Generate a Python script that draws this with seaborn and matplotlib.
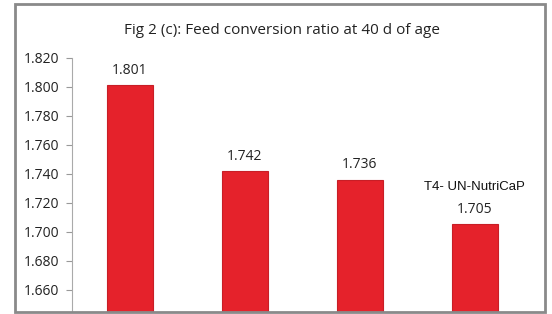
import matplotlib
matplotlib.use("Agg")
import matplotlib.pyplot as plt
import seaborn as sns
import pandas as pd
from matplotlib.patches import Rectangle

# data
treatments = ["T1", "T2", "T3", "T4"]
fcr = [1.801, 1.742, 1.736, 1.705]
value_labels = ["1.801", "1.742", "1.736", "1.705"]
yticks = [1.660, 1.680, 1.700, 1.720, 1.740, 1.760, 1.780, 1.800, 1.820]

df = pd.DataFrame({"treatment": treatments, "fcr": fcr})

sns.set_style("white")
plt.rcParams["font.family"] = ["Open Sans", "DejaVu Sans"]

fig = plt.figure(figsize=(5.52, 3.14), dpi=100)
ax = fig.add_axes([72 / 552, 2 / 314, 460 / 552, (312 - 58) / 314])

sns.barplot(data=df, x="treatment", y="fcr", color="#e5222b", width=0.4,
            edgecolor="#c81e26", linewidth=0.8, saturation=1, ax=ax)

ax.set_ylim(1.6445, 1.820)
ax.set_xlim(-0.5, 3.5)
ax.set_yticks(yticks)
ax.set_yticklabels([f"{t:.3f}" for t in yticks], fontsize=10, color="#222222")
ax.set_xticks([])
ax.set_xlabel("")
ax.set_ylabel("")
ax.tick_params(axis="y", length=4, width=0.8, color="#999999", pad=5, left=True)

for s in ["top", "right", "bottom"]:
    ax.spines[s].set_visible(False)
ax.spines["left"].set_color("#aaaaaa")
ax.spines["left"].set_linewidth(0.8)

for i, (v, lab) in enumerate(zip(fcr, value_labels)):
    ax.text(i, v + 0.005, lab, ha="center", va="bottom", fontsize=10, color="#222222")

ax.text(3, fcr[3] + 0.022, "T4- UN-NutriCaP", ha="center", va="bottom",
        fontsize=9.5, family=["Liberation Sans", "DejaVu Sans"], color="#111111")

fig.text(282 / 552, 1 - 31 / 314, "Fig 2 (c): Feed conversion ratio at 40 d of age",
         ha="center", va="center", fontsize=11, color="#222222")

# outer grey frame
fig.patches.append(Rectangle((15 / 552, 2 / 314), 530 / 552, 308 / 314,
                             transform=fig.transFigure, fill=False,
                             edgecolor="#8a8a8a", linewidth=2, zorder=10))

fig.savefig("out.png", dpi=100)
